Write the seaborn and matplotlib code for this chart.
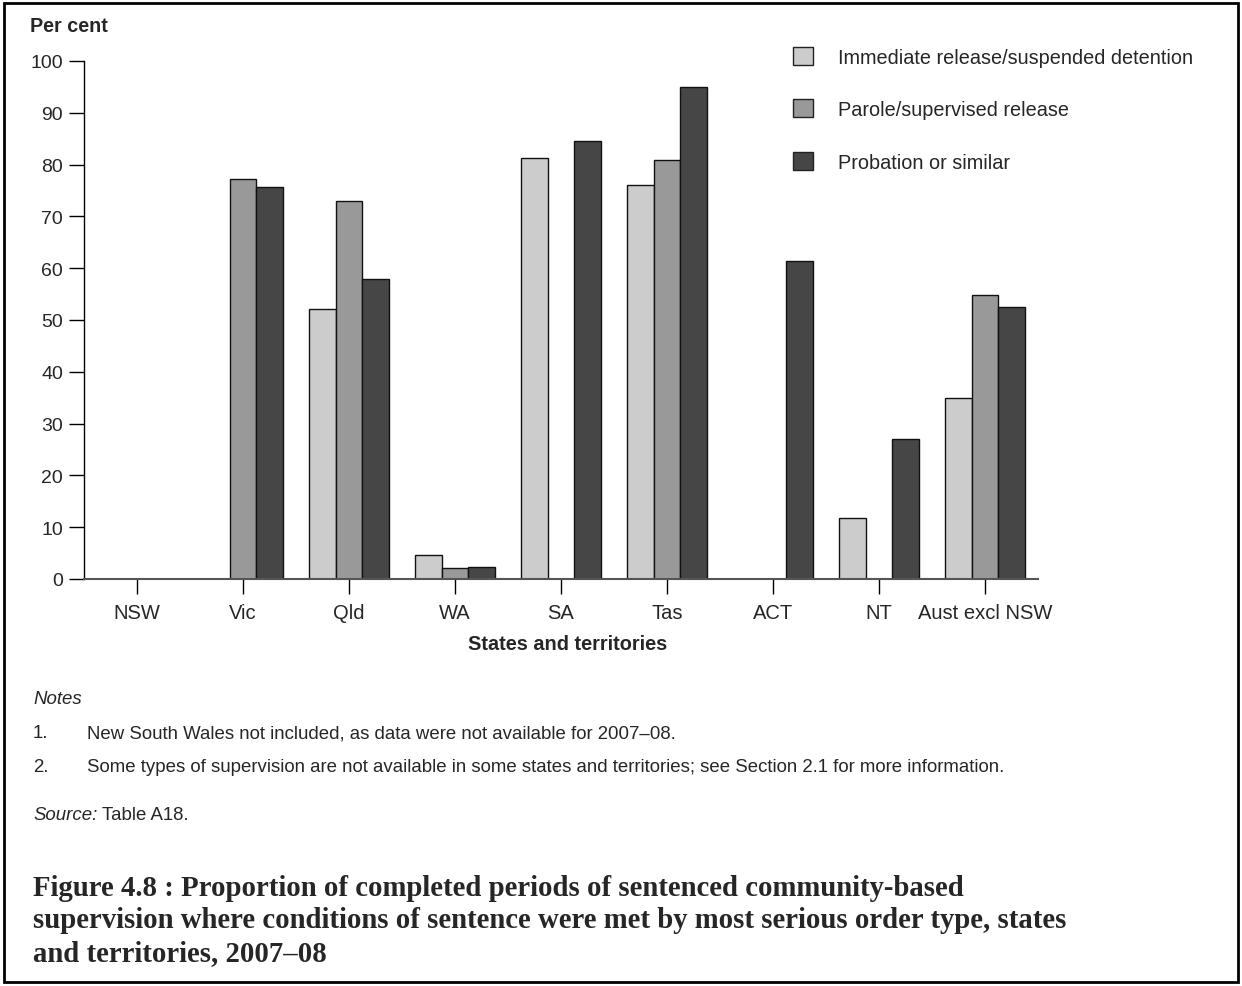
import numpy as np
import pandas as pd
import matplotlib
matplotlib.use("Agg")
import matplotlib.pyplot as plt
import seaborn as sns
from matplotlib.patches import Rectangle, Patch

categories = ["NSW", "Vic", "Qld", "WA", "SA", "Tas", "ACT", "NT", "Aust excl NSW"]
series = ["Immediate release/suspended detention", "Parole/supervised release", "Probation or similar"]
immediate = [np.nan, np.nan, 52.1, 4.6, 81.3, 76.1, np.nan, 11.8, 34.9]
parole = [np.nan, 77.2, 73.0, 2.2, np.nan, 80.9, np.nan, np.nan, 54.9]
probation = [np.nan, 75.6, 57.9, 2.3, 84.5, 95.0, 61.4, 27.0, 52.6]
yticks = [0, 10, 20, 30, 40, 50, 60, 70, 80, 90, 100]

colors = ["#cccccc", "#999999", "#464646"]

rows = []
for s, vals in zip(series, [immediate, parole, probation]):
    for c, v in zip(categories, vals):
        if not np.isnan(v):
            rows.append({"State": c, "Series": s, "Value": v})
df = pd.DataFrame(rows)

sns.set_style("white")
plt.rcParams["font.family"] = ["Liberation Sans", "DejaVu Sans"]

W, H = 1242, 987
fig = plt.figure(figsize=(W / 100, H / 100), dpi=100)
ax = fig.add_axes([84 / W, 1 - 580 / H, (1038 - 84) / W, (580 - 62) / H])

sns.barplot(data=df, x="State", y="Value", hue="Series", order=categories,
            hue_order=series, palette=colors, width=0.75, errorbar=None,
            edgecolor="#111111", linewidth=1.0, saturation=1, ax=ax, legend=False)

ax.set_xlim(-0.5, 8.5)
ax.set_ylim(0, 100)
ax.set_yticks(yticks)
ax.set_yticklabels([str(t) for t in yticks], fontsize=14)
ax.set_xticks(range(len(categories)))
ax.set_xticklabels(categories, fontsize=14.5)
ax.tick_params(axis="y", direction="out", length=11, width=1, color="black", pad=4, left=True)
ax.tick_params(axis="x", direction="out", length=11, width=1, color="black", pad=6, bottom=True)
for side in ["top", "right"]:
    ax.spines[side].set_visible(False)
ax.spines["left"].set_color("black")
ax.spines["left"].set_linewidth(1)
ax.spines["bottom"].set_color("#555555")
ax.spines["bottom"].set_linewidth(1.5)
ax.set_xlabel("")
ax.set_ylabel("")
ax.patch.set_alpha(0)

fig.text(568 / W, 1 - 645 / H, "States and territories", ha="center", va="center",
         fontsize=14.3, fontweight="bold")
fig.text(30 / W, 1 - 27 / H, "Per cent", ha="left", va="center", fontsize=14.2, fontweight="bold")

handles = [Patch(facecolor=c, edgecolor="#222222", linewidth=1) for c in colors]
fig.legend(handles, series, loc="upper left", bbox_to_anchor=(793 / W, 1 - 48 / H),
           frameon=False, fontsize=14.3, handlelength=1.0, handleheight=1.0,
           handletextpad=1.25, labelspacing=1.65, borderaxespad=0, borderpad=0)

nfs = 13.4
fig.text(33 / W, 1 - 700 / H, "Notes", ha="left", va="center", fontsize=nfs, style="italic")
fig.text(33 / W, 1 - 734 / H, "1.", ha="left", va="center", fontsize=nfs)
fig.text(87 / W, 1 - 734 / H, "New South Wales not included, as data were not available for 2007\u201308.",
         ha="left", va="center", fontsize=nfs)
fig.text(33 / W, 1 - 768 / H, "2.", ha="left", va="center", fontsize=nfs)
fig.text(87 / W, 1 - 768 / H,
         "Some types of supervision are not available in some states and territories; see Section 2.1 for more information.",
         ha="left", va="center", fontsize=nfs)
src = fig.text(33 / W, 1 - 815 / H, "Source:", ha="left", va="center", fontsize=nfs, style="italic")
fig.text(0, 0, "Table A18.", ha="left", va="center", fontsize=nfs,
         transform=matplotlib.transforms.offset_copy(fig.transFigure, fig=fig, x=0, y=0))
fig.texts[-1].remove()
fig.canvas.draw()
bb = src.get_window_extent()
fig.text((bb.x1 + 5) / W, 1 - 815 / H, "Table A18.", ha="left", va="center", fontsize=nfs)

cap_lines = ["Figure 4.8 : Proportion of completed periods of sentenced community-based",
             "supervision where conditions of sentence were met by most serious order type, states",
             "and territories, 2007\u201308"]
for line, yb in zip(cap_lines, [896, 928.5, 961]):
    fig.text(33 / W, 1 - yb / H, line, ha="left", va="baseline", fontsize=20.7, fontweight="bold",
             family=["Liberation Serif", "DejaVu Serif"])

fig.patches.append(Rectangle((4 / W, 4 / H), (W - 8) / W, (H - 8) / H, transform=fig.transFigure,
                             fill=False, edgecolor="black", linewidth=2))

fig.savefig("out.png", dpi=100)
